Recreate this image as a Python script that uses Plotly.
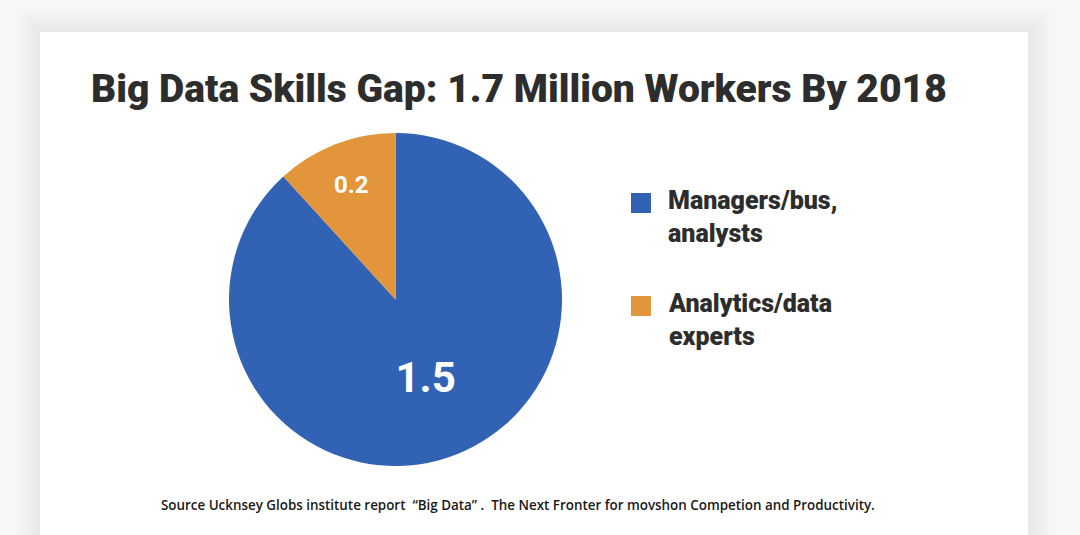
import plotly.graph_objects as go

# ---- data ----
labels = ["Managers/bus,<br>analysts", "Analytics/data<br>experts"]
values = [1.5, 0.2]
colors = ["#3162B4", "#E2953A"]
title_text = "Big Data Skills Gap: 1.7 Million Workers By 2018"
source_text = "Source Ucknsey Globs institute report  \u201cBig Data\u201d .  The Next Fronter for movshon Competion and Productivity."

W, H = 1080, 535
BOLDF = "Roboto, Liberation Sans, sans-serif"


def px(x):
    return x / W


def py(y):
    return 1 - y / H


fig = go.Figure()

fig.add_trace(go.Pie(
    values=values,
    labels=labels,
    marker=dict(colors=colors, line=dict(width=0)),
    sort=False,
    direction="clockwise",
    rotation=0,
    textinfo="value",
    textposition="inside",
    insidetextfont=dict(family=BOLDF, size=[42, 24], color="white", weight="bold"),
    domain=dict(x=[px(229), px(562)], y=[py(466), py(133)]),
    showlegend=False,
    hoverinfo="label+value",
))

shapes = []
# card shadow
for i in range(8):
    e = 2 + i * 3
    shapes.append(dict(type="rect", xref="paper", yref="paper", layer="below",
                       x0=px(40 - e), x1=px(1028 + e), y0=py(560), y1=py(32 - e),
                       fillcolor="rgba(0,0,0,0.007)", line=dict(width=0)))
# card
shapes.append(dict(type="rect", xref="paper", yref="paper", layer="below",
                   x0=px(40), x1=px(1028), y0=py(560), y1=py(32),
                   fillcolor="white", line=dict(width=0)))

annotations = [
    dict(text=title_text, x=px(519), y=py(89), xref="paper", yref="paper",
         xanchor="center", yanchor="middle", showarrow=False,
         font=dict(family=BOLDF, size=39, color="#2d2d2d", weight=900)),
    dict(text=source_text, x=px(518), y=py(505), xref="paper", yref="paper",
         xanchor="center", yanchor="middle", showarrow=False,
         font=dict(family="Open Sans, sans-serif", size=13.4, color="#1a1a1a", weight=600)),
]

# manual legend
leg_y = [203, 306]
for i, lab in enumerate(labels):
    yc = leg_y[i]
    shapes.append(dict(type="rect", xref="paper", yref="paper",
                       x0=px(631), x1=px(651), y0=py(yc + 10), y1=py(yc - 10),
                       fillcolor=colors[i], line=dict(width=0)))
    annotations.append(dict(text=lab, x=px(666), y=py(yc - 19), xref="paper", yref="paper",
                            xanchor="left", yanchor="top", align="left", showarrow=False,
                            font=dict(family=BOLDF, size=25, color="#2d2d2d", weight=900)))

fig.update_layout(
    width=W, height=H,
    margin=dict(l=0, r=0, t=0, b=0),
    paper_bgcolor="#f7f7f7",
    plot_bgcolor="#f7f7f7",
    shapes=shapes,
    annotations=annotations,
)

fig.write_html(
    "out.html",
    config={"displayModeBar": False},
    post_script="document.body.style.margin='0';document.body.style.background='#f7f7f7';",
)
